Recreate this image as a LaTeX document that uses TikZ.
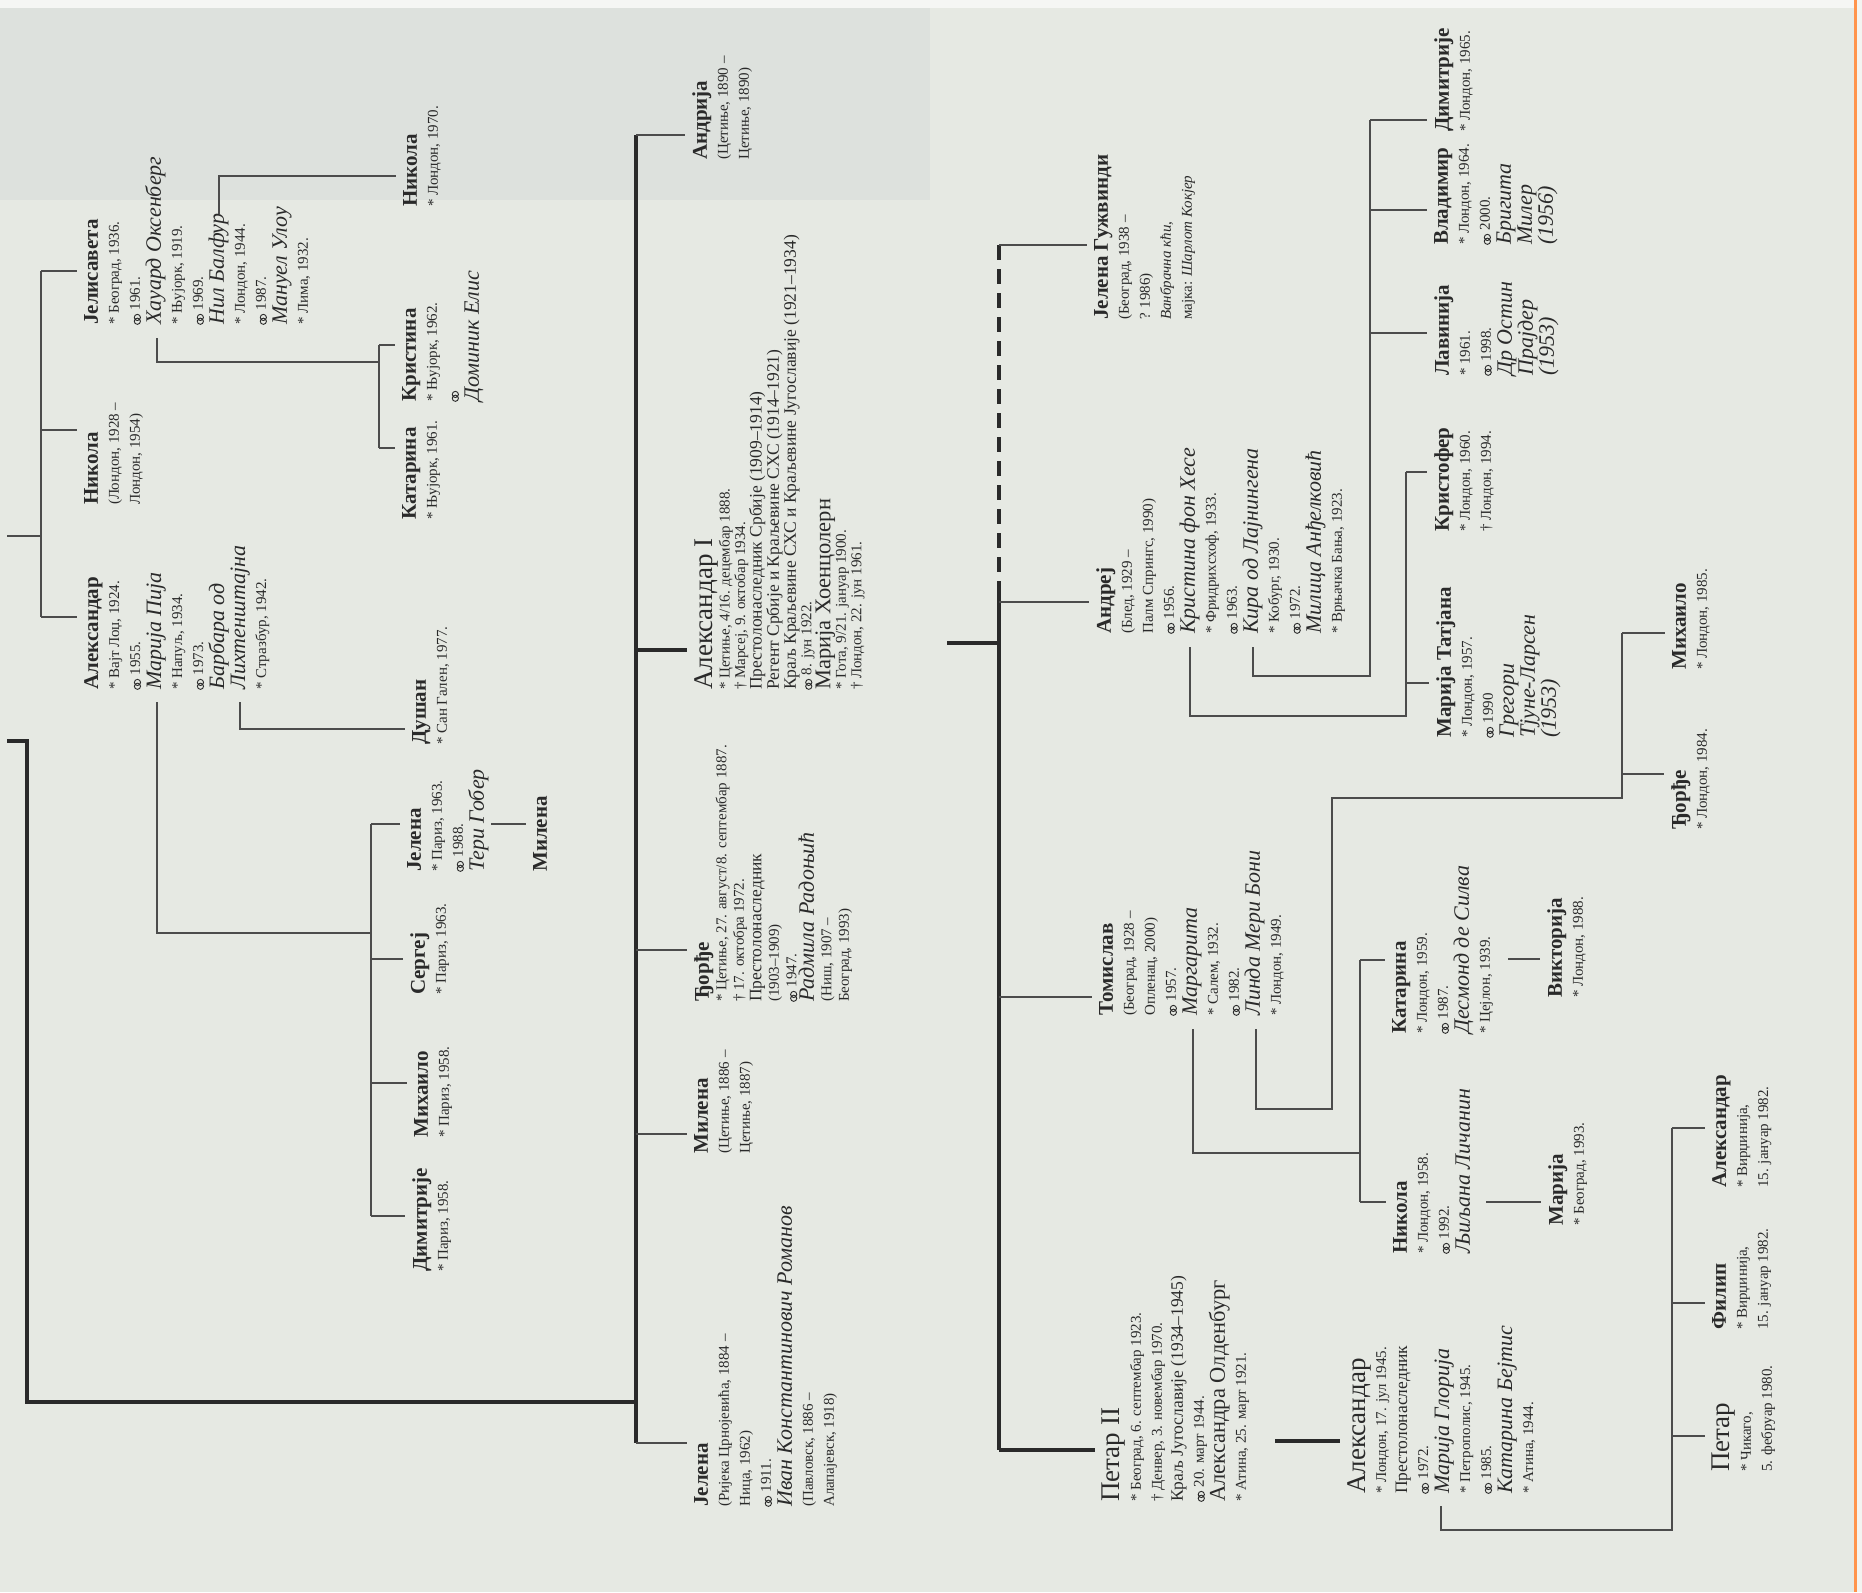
\documentclass[tikz,border=0pt]{standalone}
\usepackage{fontspec}
\setmainfont{Liberation Serif}
\newcommand\marr{\tikz[baseline=-2.6pt,x=1pt,y=1pt]\draw[line width=0.9pt] (0,0) circle[radius=3.1] (3.8,0) circle[radius=3.1];}
\newcommand\pname{\fontsize{21}{21}\selectfont\bfseries}
\newcommand\proyal{\fontsize{27}{28}\selectfont}
\newcommand\pspouse{\fontsize{22}{22}\selectfont\itshape}
\newcommand\pqueen{\fontsize{22.5}{22}\selectfont}
\newcommand\ptitle{\fontsize{17.5}{17}\selectfont}
\newcommand\pinfo{\fontsize{15}{15}\selectfont}
\definecolor{paper}{HTML}{E6E9E3}
\definecolor{paperdark}{HTML}{DDE1DD}
\definecolor{ink}{HTML}{2A2A2A}
\definecolor{rule}{HTML}{4C4C4C}

\begin{document}
\begin{tikzpicture}[x=1pt,y=-1pt,
  person/.style={rotate=90,anchor=north west,align=left,inner sep=0pt,text=ink,font=\fontsize{15}{21}\selectfont},
  tight/.style={font=\fontsize{15}{15.5}\selectfont},
  snug/.style={font=\fontsize{15}{17.5}\selectfont},
  link/.style={draw=rule,line width=1.8pt},
  mid/.style={draw=rule,line width=2.6pt},
  stem/.style={draw=ink,line width=4.4pt},
  gap/.style={shorten >=7pt}]
\useasboundingbox (0,0) rectangle (1862,1592);
\fill[paper] (0,0) rectangle (1862,1592);
\fill[paperdark] (0,8) rectangle (930,200);
\fill[white!60!paper] (0,0) rectangle (1862,8);
\fill[white!50!paper] (1857,0) rectangle (1862,1592);
\draw[orange!80!red!70,line width=3pt] (1855,0) -- (1855,1592);

\node[person] (jelisaveta) at (84,325) {\pname Јелисавета\\\pinfo * Београд, 1936.\\\pinfo \marr\ 1961.\\\pspouse Хауард Оксенберг\\\pinfo * Њујорк, 1919.\\\pinfo \marr\ 1969.\\\pspouse Нил Балфур\\\pinfo * Лондон, 1944.\\\pinfo \marr\ 1987.\\\pspouse Мануел Улоу\\\pinfo * Лима, 1932.};
\node[person] (nikolaA) at (84,505) {\pname Никола\\\pinfo (Лондон, 1928 –\\\pinfo Лондон, 1954)};
\node[person] (aleksandarA) at (84,690) {\pname Александар\\\pinfo * Вајт Лоџ, 1924.\\\pinfo \marr\ 1955.\\\pspouse Марија Пија\\\pinfo * Напуљ, 1934.\\\pinfo \marr\ 1973.\\\pspouse Барбара од\\\pspouse Лихтенштајна\\\pinfo * Стразбур, 1942.};
\node[person] (nikolaB) at (403,207) {\pname Никола\\\pinfo * Лондон, 1970.};
\node[person] (kristina) at (402,402) {\pname Кристина\\\pinfo * Њујорк, 1962.\\\pinfo \marr\\\pspouse Доминик Елис};
\node[person] (katarinaA) at (402,520) {\pname Катарина\\\pinfo * Њујорк, 1961.};
\node[person] (dusan) at (412,745) {\pname Душан\\\pinfo * Сан Гален, 1977.};
\node[person] (jelenaA) at (407,872) {\pname Јелена\\\pinfo * Париз, 1963.\\\pinfo \marr\ 1988.\\\pspouse Тери Гобер};
\node[person] (milenaA) at (533,872) {\pname Милена};
\node[person] (sergej) at (410,995) {\pname Сергеј\\\pinfo * Париз, 1963.};
\node[person] (mihailoA) at (414,1138) {\pname Михаило\\\pinfo * Париз, 1958.};
\node[person] (dimitrijeA) at (412,1272) {\pname Димитрије\\\pinfo * Париз, 1958.};

\node[person] (andrija) at (692,160) {\pname Андрија\\\pinfo (Цетиње, 1890 –\\\pinfo Цетиње, 1890)};
\node[person,tight] (aleksandarI) at (694,690) {\proyal Александар I\\\pinfo * Цетиње, 4/16. децембар 1888.\\\pinfo † Марсеј, 9. октобар 1934.\\\ptitle Престолонаследник Србије (1909–1914)\\\ptitle Регент Србије и Краљевине СХС (1914–1921)\\\ptitle Краљ Краљевине СХС и Краљевине Југославије (1921–1934)\\\pinfo \marr\ 8. јун 1922.\\\pqueen Марија Хоенцолерн\\\pinfo * Гота, 9/21. јануар 1900.\\\pinfo † Лондон, 22. јун 1961.};
\node[person,snug] (djordjeA) at (694,1002) {\pname Ђорђе\\\pinfo * Цетиње, 27. август/8. септембар 1887.\\\pinfo † 17. октобра 1972.\\\ptitle Престолонаследник\\\pinfo (1903–1909)\\\pinfo \marr\ 1947.\\\pspouse Радмила Радоњић\\\pinfo (Ниш, 1907 –\\\pinfo Београд, 1993)};
\node[person] (milenaB) at (694,1154) {\pname Милена\\\pinfo (Цетиње, 1886 –\\\pinfo Цетиње, 1887)};
\node[person] (jelenaB) at (694,1507) {\pname Јелена\\\pinfo (Ријека Црнојевића, 1884 –\\\pinfo Ница, 1962)\\\pinfo \marr\ 1911.\\\pspouse Иван Константинович Романов\\\pinfo (Павловск, 1886 –\\\pinfo Алапајевск, 1918)};

\node[person] (jelenaC) at (1094,320) {\pname Јелена Гужвинди\\\pinfo (Београд, 1938 –\\\pinfo ? 1986)\\\pinfo\itshape Ванбрачна кћи,\\\pinfo мајка: \textit{Шарлот Кокјер}};
\node[person] (andrej) at (1096,634) {\pname Андреј\\\pinfo (Блед, 1929 –\\\pinfo Палм Спрингс, 1990)\\\pinfo \marr\ 1956.\\\pspouse Кристина фон Хесе\\\pinfo * Фридрихсхоф, 1933.\\\pinfo \marr\ 1963.\\\pspouse Кира од Лајнингена\\\pinfo * Кобург, 1930.\\\pinfo \marr\ 1972.\\\pspouse Милица Анђелковић\\\pinfo * Врњачка Бања, 1923.};
\node[person] (tomislav) at (1099,1016) {\pname Томислав\\\pinfo (Београд, 1928 –\\\pinfo Опленац, 2000)\\\pinfo \marr\ 1957.\\\pspouse Маргарита\\\pinfo * Салем, 1932.\\\pinfo \marr\ 1982.\\\pspouse Линда Мери Бони\\\pinfo * Лондон, 1949.};
\node[person] (petarII) at (1102,1502) {\proyal Петар II\\\pinfo * Београд, 6. септембар 1923.\\\pinfo † Денвер, 3. новембар 1970.\\\ptitle Краљ Југославије (1934–1945)\\\pinfo \marr\ 20. март 1944.\\\pqueen Александра Олденбург\\\pinfo * Атина, 25. март 1921.};

\node[person] (aleksandarC) at (1347,1494) {\proyal Александар\\\pinfo * Лондон, 17. јул 1945.\\\ptitle Престолонаследник\\\pinfo \marr\ 1972.\\\pspouse Марија Глорија\\\pinfo * Петрополис, 1945.\\\pinfo \marr\ 1985.\\\pspouse Катарина Бејтис\\\pinfo * Атина, 1944.};
\node[person] (nikolaC) at (1393,1254) {\pname Никола\\\pinfo * Лондон, 1958.\\\pinfo \marr\ 1992.\\\pspouse Љиљана Личанин};
\node[person] (katarinaC) at (1392,1034) {\pname Катарина\\\pinfo * Лондон, 1959.\\\pinfo \marr\ 1987.\\\pspouse Десмонд де Силва\\\pinfo * Цејлон, 1939.};
\node[person] (viktorija) at (1547,998) {\pname Викторија\\\pinfo * Лондон, 1988.};
\node[person] (marijaC) at (1548,1226) {\pname Марија\\\pinfo * Београд, 1993.};
\node[person] (petarC) at (1712,1472) {\proyal Петар\\\pinfo * Чикаго,\\\pinfo 5. фебруар 1980.};
\node[person] (filip) at (1712,1330) {\pname Филип\\\pinfo * Вирџинија,\\\pinfo 15. јануар 1982.};
\node[person] (aleksandarD) at (1712,1188) {\pname Александар\\\pinfo * Вирџинија,\\\pinfo 15. јануар 1982.};
\node[person] (mihailoC) at (1672,670) {\pname Михаило\\\pinfo * Лондон, 1985.};
\node[person] (djordjeC) at (1671,830) {\pname Ђорђе\\\pinfo * Лондон, 1984.};
\node[person] (marijaT) at (1436,738) {\pname Марија Татјана\\\pinfo * Лондон, 1957.\\\pinfo \marr\ 1990\\\pspouse Грегори\\\pspouse Тјуне-Ларсен\\\pspouse (1953)};
\node[person] (kristofer) at (1434,532) {\pname Кристофер\\\pinfo * Лондон, 1960.\\\pinfo † Лондон, 1994.};
\node[person] (lavinija) at (1434,376) {\pname Лавинија\\\pinfo * 1961.\\\pinfo \marr\ 1998.\\\pspouse Др Остин\\\pspouse Прајдер\\\pspouse (1953)};
\node[person] (vladimir) at (1434,245) {\pname Владимир\\\pinfo * Лондон, 1964.\\\pinfo \marr\ 2000.\\\pspouse Бригита\\\pspouse Милер\\\pspouse (1956)};
\node[person] (dimitrijeC) at (1434,132) {\pname Димитрије\\\pinfo * Лондон, 1965.};

\coordinate (pavle) at (7,536);
\coordinate (pv) at (41,536);
\coordinate (pvA) at (41,271);
\coordinate (pvB) at (41,430);
\coordinate (pvC) at (41,617);
\draw[link] (pavle) -- (pv);
\draw[link] (pvA) -- (pvC);
\draw[link,gap] (pvA) -- (jelisaveta.north |- pvA);
\draw[link,gap] (pvB) -- (nikolaA.north |- pvB);
\draw[link,gap] (pvC) -- (aleksandarA.north |- pvC);

\coordinate (oks) at (157,338);
\coordinate (oksV) at (379,362);
\coordinate (oksA) at (379,345);
\coordinate (oksB) at (379,448);
\draw[link] (oks) |- (oksV);
\draw[link] (oksA) -- (oksB);
\draw[link,gap] (oksA) -- (kristina.north |- oksA);
\draw[link,gap] (oksB) -- (katarinaA.north |- oksB);
\coordinate (bal) at (219,214);
\coordinate (balT) at (219,176);
\draw[link,gap] (bal) -- (balT) -- (nikolaB.north |- balT);

\coordinate (pija) at (157,702);
\coordinate (pijaB) at (371,933);
\coordinate (pjA) at (371,824);
\coordinate (pjB) at (371,959);
\coordinate (pjC) at (371,1083);
\coordinate (pjD) at (371,1216);
\draw[link] (pija) |- (pijaB);
\draw[link] (pjA) -- (pjD);
\draw[link,gap] (pjA) -- (jelenaA.north |- pjA);
\draw[link,gap] (pjB) -- (sergej.north |- pjB);
\draw[link,gap] (pjC) -- (mihailoA.north |- pjC);
\draw[link,gap] (pjD) -- (dimitrijeA.north |- pjD);
\coordinate (barb) at (240,702);
\coordinate (barbB) at (240,729);
\draw[link,gap] (barb) -- (barbB) -- (dusan.north |- barbB);
\coordinate (gob) at (491,824);
\draw[link,gap] (gob) -- (milenaA.north |- gob);

\coordinate (karA) at (7,741);
\coordinate (karB) at (27,1402);
\coordinate (trunkT) at (636,135);
\coordinate (trunkB) at (636,1443);
\coordinate (tA) at (636,650);
\coordinate (tB) at (636,950);
\coordinate (tC) at (636,1134);
\draw[stem] (karA) -| (karB) -- (trunkB |- karB);
\draw[stem] (trunkT) -- (trunkB);
\draw[mid,gap] (trunkT) -- (andrija.north |- trunkT);
\draw[stem,gap] (tA) -- (aleksandarI.north |- tA);
\draw[link,gap] (tB) -- (djordjeA.north |- tB);
\draw[link,gap] (tC) -- (milenaB.north |- tC);
\draw[mid,gap] (trunkB) -- (jelenaB.north |- trunkB);

\coordinate (akT) at (999,245);
\coordinate (akM) at (999,586);
\coordinate (akJ) at (999,643);
\coordinate (akS) at (947,643);
\coordinate (akA) at (999,602);
\coordinate (akC) at (999,997);
\coordinate (akB) at (999,1450);
\draw[stem] (akS) -- (akJ);
\draw[stem,dash pattern=on 15pt off 9pt] (akT) -- (akM);
\draw[stem] (akM) -- (akB);
\draw[link,gap] (akT) -- (jelenaC.north |- akT);
\draw[link,gap] (akA) -- (andrej.north |- akA);
\draw[link,gap] (akC) -- (tomislav.north |- akC);
\draw[stem,gap] (akB) -- (petarII.north |- akB);

\coordinate (hes) at (1190,647);
\coordinate (hesB) at (1406,716);
\coordinate (hesA) at (1406,472);
\coordinate (hesM) at (1406,683);
\draw[link] (hes) |- (hesB) -- (hesA);
\draw[link,gap] (hesA) -- (kristofer.north |- hesA);
\draw[link,gap] (hesM) -- (marijaT.north |- hesM);
\coordinate (kir) at (1253,647);
\coordinate (kirB) at (1370,676);
\coordinate (kirA) at (1370,120);
\coordinate (kirM) at (1370,210);
\coordinate (kirN) at (1370,333);
\draw[link] (kir) |- (kirB) -- (kirA);
\draw[link,gap] (kirA) -- (dimitrijeC.north |- kirA);
\draw[link,gap] (kirM) -- (vladimir.north |- kirM);
\draw[link,gap] (kirN) -- (lavinija.north |- kirN);

\coordinate (mar) at (1193,1029);
\coordinate (marB) at (1360,1153);
\coordinate (marT) at (1360,960);
\coordinate (marN) at (1360,1202);
\draw[link] (mar) |- (marB);
\draw[link] (marT) -- (marN);
\draw[link,gap] (marT) -- (katarinaC.north |- marT);
\draw[link,gap] (marN) -- (nikolaC.north |- marN);
\coordinate (lin) at (1256,1029);
\coordinate (linB) at (1332,1109);
\coordinate (linT) at (1332,798);
\coordinate (linR) at (1622,798);
\coordinate (linA) at (1622,633);
\coordinate (linM) at (1622,774);
\draw[link] (lin) |- (linB) -- (linT) -- (linR) -- (linA);
\draw[link,gap] (linA) -- (mihailoC.north |- linA);
\draw[link,gap] (linM) -- (djordjeC.north |- linM);
\coordinate (des) at (1508,959);
\draw[link,gap] (des) -- (viktorija.north |- des);
\coordinate (lic) at (1486,1202);
\draw[link,gap] (lic) -- (marijaC.north |- lic);

\coordinate (pet) at (1275,1441);
\draw[stem,gap] (pet) -- (aleksandarC.north |- pet);
\coordinate (glo) at (1441,1506);
\coordinate (gloB) at (1672,1530);
\coordinate (gloA) at (1672,1128);
\coordinate (gloM) at (1672,1303);
\coordinate (gloP) at (1672,1436);
\draw[link] (glo) |- (gloB) -- (gloA);
\draw[link,gap] (gloA) -- (aleksandarD.north |- gloA);
\draw[link,gap] (gloM) -- (filip.north |- gloM);
\draw[link,gap] (gloP) -- (petarC.north |- gloP);
\end{tikzpicture}
\end{document}
